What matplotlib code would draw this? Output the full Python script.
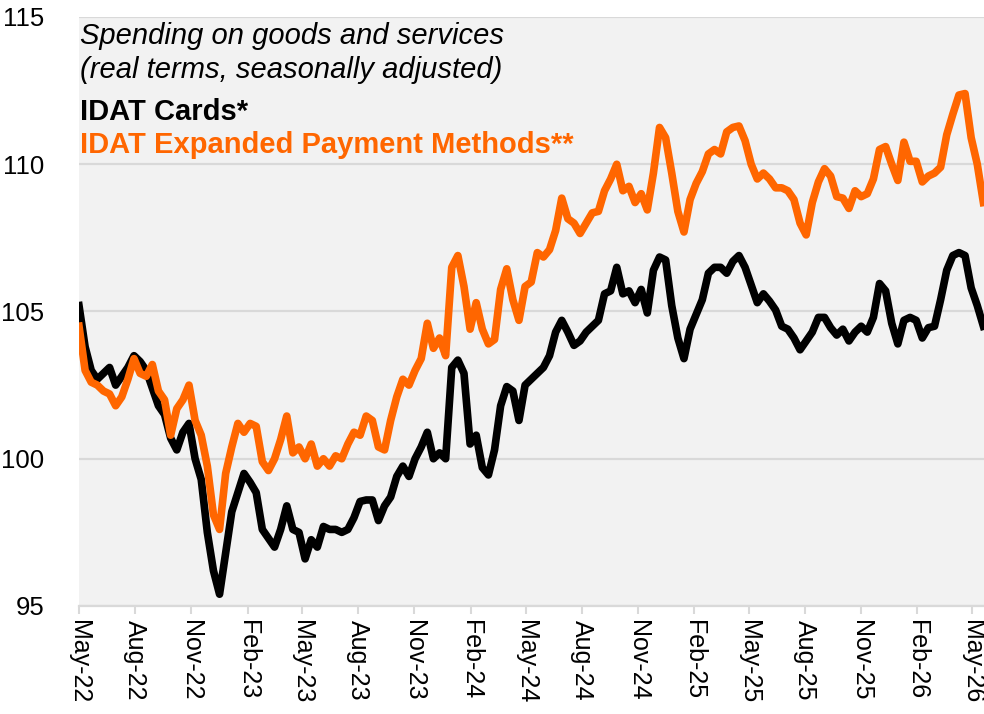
import pandas as pd
import matplotlib
matplotlib.use('Agg')
import matplotlib.pyplot as plt
import matplotlib.dates as mdates

##
##  Data: index values read every 10 days from 1 May 2022
##
start_date = '2022-05-01'
step = '10D'

cards = [105.2, 103.8, 103.0, 102.7, 102.9, 103.1, 102.5, 102.8, 103.1, 103.5,
         103.3, 103.0, 102.4, 101.8, 101.5, 100.7, 100.3, 100.9, 101.2, 100.0,
         99.3, 97.5, 96.2, 95.4, 96.8, 98.2, 98.85, 99.5, 99.2, 98.85,
         97.6, 97.3, 97.0, 97.6, 98.4, 97.6, 97.5, 96.6, 97.25, 97.0,
         97.7, 97.6, 97.6, 97.5, 97.6, 98.0, 98.55, 98.6, 98.6, 97.9,
         98.4, 98.7, 99.4, 99.75, 99.4, 100.0, 100.4, 100.9, 100.0, 100.2,
         100.0, 103.1, 103.35, 102.9, 100.5, 100.8, 99.7, 99.45, 100.3, 101.8,
         102.45, 102.3, 101.3, 102.5, 102.7, 102.9, 103.1, 103.5, 104.3, 104.7,
         104.3, 103.85, 104.0, 104.3, 104.5, 104.7, 105.6, 105.7, 106.5, 105.6,
         105.7, 105.3, 105.75, 104.95, 106.4, 106.85, 106.75, 105.2, 104.1, 103.4,
         104.4, 104.9, 105.4, 106.3, 106.5, 106.5, 106.3, 106.7, 106.9, 106.5,
         105.9, 105.3, 105.6, 105.35, 105.05, 104.5, 104.4, 104.1, 103.7, 104.0,
         104.3, 104.8, 104.8, 104.45, 104.2, 104.4, 104.0, 104.3, 104.5, 104.3,
         104.8, 105.95, 105.7, 104.6, 103.9, 104.7, 104.8, 104.7, 104.1, 104.45,
         104.5, 105.4, 106.4, 106.9, 107.0, 106.9, 105.8, 105.2, 104.5]

expanded = [104.5, 103.0, 102.6, 102.5, 102.3, 102.2, 101.8, 102.1, 102.7, 103.4,
            102.9, 102.8, 103.2, 102.3, 102.0, 100.8, 101.7, 102.0, 102.5, 101.3,
            100.8, 99.75, 98.1, 97.6, 99.5, 100.4, 101.2, 100.9, 101.2, 101.1,
            99.9, 99.6, 100.0, 100.65, 101.45, 100.2, 100.4, 100.0, 100.5, 99.75,
            100.0, 99.75, 100.1, 100.0, 100.5, 100.9, 100.8, 101.45, 101.3, 100.4,
            100.3, 101.3, 102.1, 102.7, 102.5, 103.0, 103.4, 104.6, 103.75, 104.1,
            103.5, 106.5, 106.9, 105.85, 104.4, 105.3, 104.4, 103.9, 104.05, 105.75,
            106.45, 105.4, 104.7, 105.85, 106.0, 107.0, 106.85, 107.1, 107.75, 108.85,
            108.15, 108.0, 107.65, 108.0, 108.35, 108.4, 109.1, 109.5, 110.0, 109.1,
            109.25, 108.7, 109.0, 108.45, 109.7, 111.25, 110.9, 109.7, 108.4, 107.7,
            108.8, 109.35, 109.75, 110.35, 110.5, 110.35, 111.1, 111.25, 111.3, 110.8,
            110.0, 109.5, 109.7, 109.5, 109.2, 109.2, 109.1, 108.8, 108.0, 107.6,
            108.7, 109.4, 109.85, 109.6, 108.9, 108.85, 108.5, 109.1, 108.9, 109.0,
            109.5, 110.5, 110.6, 110.0, 109.45, 110.75, 110.1, 110.1, 109.4, 109.6,
            109.7, 109.9, 111.0, 111.7, 112.35, 112.4, 110.9, 110.0, 108.7]

dates = pd.date_range(start_date, periods=len(cards), freq=step)

yticks = [95, 100, 105, 110, 115]

##
##  Plot
##
plt.rcParams['font.family'] = ['Liberation Sans', 'DejaVu Sans']

fig = plt.figure(figsize=(9.84, 7.14), dpi=100)
ax = fig.add_axes([79/984, 1 - 606/714, 905/984, 589/714])
ax.set_facecolor('#f2f2f2')

ax.plot(dates, cards, color='black', lw=5.5, solid_joinstyle='round')
ax.plot(dates, expanded, color='#ff6600', lw=5.5, solid_joinstyle='round')

ax.set_ylim(95, 115)
ax.set_yticks(yticks)
ax.set_xlim(pd.Timestamp('2022-05-01'), pd.Timestamp('2026-05-21'))
ax.xaxis.set_major_locator(mdates.MonthLocator(bymonth=[2, 5, 8, 11]))
ax.xaxis.set_major_formatter(mdates.DateFormatter('%b-%y'))

ax.grid(axis='y', color='#d9d9d9', lw=1.6)
ax.set_axisbelow(True)
for s in ['top', 'right', 'left']:
    ax.spines[s].set_visible(False)
ax.spines['bottom'].set_color('#d9d9d9')
ax.spines['bottom'].set_linewidth(1.6)

ax.tick_params(axis='y', length=0, pad=25, labelsize=18.5)
ax.tick_params(axis='x', length=6, width=1.5, color='#d9d9d9',
               labelsize=18, labelrotation=-90, pad=4)

fig.text(80/984, 1 - 44/714, 'Spending on goods and services',
         style='italic', fontsize=21, va='baseline')
fig.text(80/984, 1 - 78/714, '(real terms, seasonally adjusted)',
         style='italic', fontsize=21, va='baseline')
fig.text(80/984, 1 - 120/714, 'IDAT Cards*',
         weight='bold', fontsize=21, va='baseline')
fig.text(80/984, 1 - 153/714, 'IDAT Expanded Payment Methods**',
         weight='bold', fontsize=21, va='baseline', color='#ff6600')

fig.savefig('out.png', dpi=100)
plt.close(fig)
